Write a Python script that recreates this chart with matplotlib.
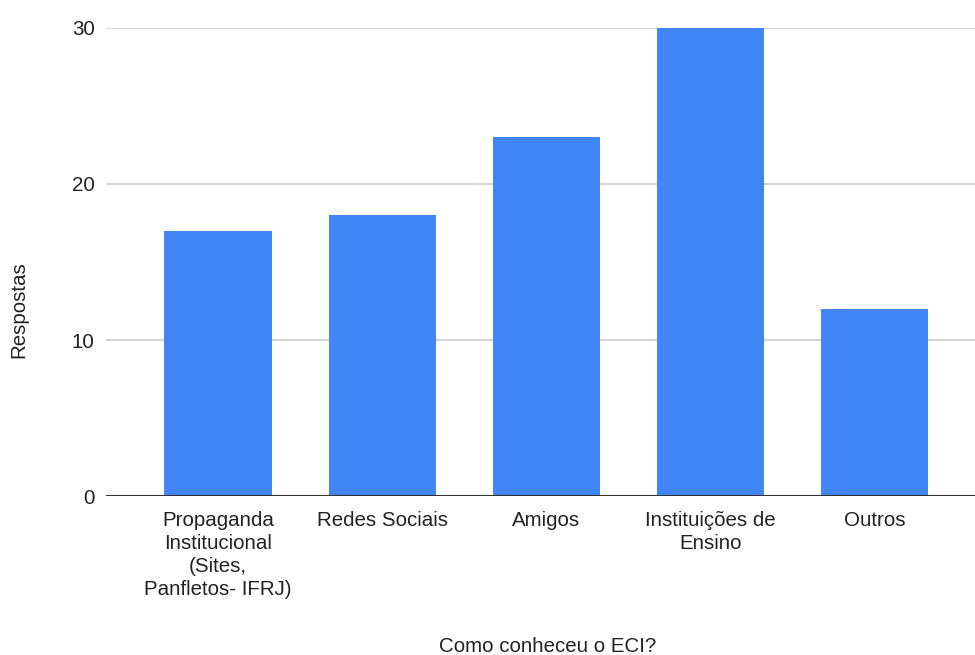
import matplotlib.pyplot as plt

plt.rcParams['font.family'] = ['Liberation Sans', 'DejaVu Sans']

categorias = ['Propaganda\nInstitucional\n(Sites,\nPanfletos- IFRJ)', 'Redes Sociais',
              'Amigos', 'Instituições de\nEnsino', 'Outros']
respostas = [17, 18, 23, 30, 12]
y_ticks = [0, 10, 20, 30]

fig = plt.figure(figsize=(9.75, 6.55), dpi=100)
ax = fig.add_axes([0.1087, 0.2427, 0.8913, 0.7146])

x = range(len(categorias))
ax.bar(x, respostas, width=0.655, color='#4285F4', zorder=2)

ax.set_xlim(-0.684, 4.612)
ax.set_ylim(0, 30)
ax.set_yticks(y_ticks)
ax.set_xticks(list(x))
ax.set_xticklabels(categorias, linespacing=1.25)

ax.grid(axis='y', color='#cccccc', linewidth=1.2, zorder=0)
ax.axhline(0, color='#333333', linewidth=1.5, zorder=3)
for s in ax.spines.values():
    s.set_visible(False)
ax.tick_params(axis='both', length=0, labelsize=14.8, colors='#222222')
ax.tick_params(axis='x', pad=11)
ax.tick_params(axis='y', pad=8)

fig.text(0.5615, 0.004, 'Como conheceu o ECI?', ha='center', va='baseline',
         fontsize=14.8, color='#222222')
fig.text(0.019, 0.527, 'Respostas', ha='center', va='center', rotation=90,
         fontsize=14.8, color='#222222')

fig.savefig('out.png', dpi=100)
